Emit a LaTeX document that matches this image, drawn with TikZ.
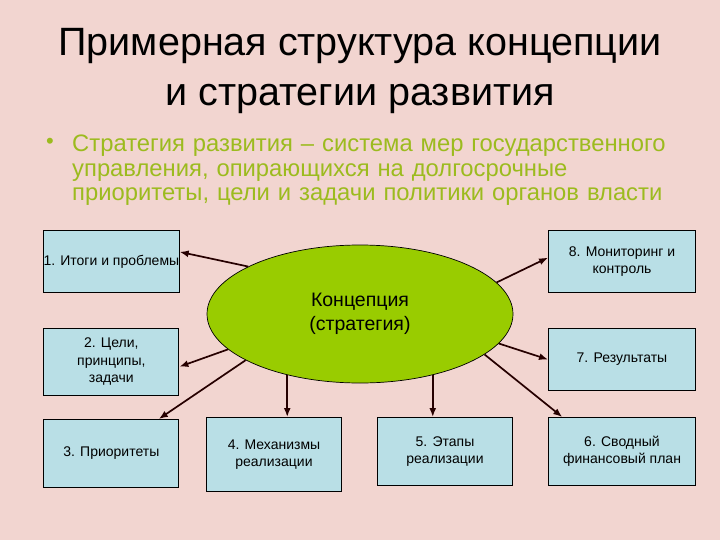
\documentclass[tikz,border=0pt]{standalone}
\usepackage{fontspec}
\setmainfont{Liberation Sans}
\usetikzlibrary{arrows.meta,positioning,shapes.geometric}

\definecolor{slidepink}{HTML}{F2D5D0}
\definecolor{boxblue}{HTML}{B9DFE6}
\definecolor{leafgreen}{HTML}{99CC00}
\definecolor{bullgreen}{HTML}{9CBB1E}

\begin{document}
\begin{tikzpicture}[x=1pt,y=-1pt,>={Latex[length=9pt,width=7pt]},
title/.style={font=\fontsize{39.5}{48}\selectfont,inner sep=0pt},
bull/.style={font=\fontsize{23.8}{24.5}\selectfont,text=bullgreen,inner sep=0pt},
box/.style={draw=black,line width=1pt,fill=boxblue,minimum width=135pt,minimum height=62pt,align=center,inner sep=0pt,font=\fontsize{14}{17.5}\selectfont},
core/.style={ellipse,draw=black,line width=0.7pt,fill=leafgreen,minimum width=306pt,minimum height=138pt,align=center,inner sep=0pt,font=\fontsize{19.5}{24}\selectfont},
arr/.style={->,line width=1.7pt,draw=black!85!red}]
\fill[slidepink] (0,0) rectangle (720,540);
\useasboundingbox (0,0) rectangle (720,540);
% heading and bullet
\node[title,anchor=base] (ttl1) at (360,56) {Примерная структура концепции};
\node[title,anchor=base] (ttl2) at (360,106) {и стратегии развития};
\node[bull,font=\fontsize{22}{22}\selectfont] (dot) at (50,143) {•};
\node[bull,anchor=base west,text width=630pt,align=left] (defn) at (72,152)
  {Стратегия развития – система мер государственного\\управления, опирающихся на долгосрочные\\приоритеты, цели и задачи политики органов власти};
% centre
\node[core] (conc) at (360,314) {Концепция\\(стратегия)};
% left column
\node[box,anchor=north west] (itogi) at (43,230) {1. Итоги и проблемы};
\node[box,minimum height=67pt,below=35pt of itogi] (celi) {2. Цели,\\принципы,\\задачи};
\node[box,minimum height=68pt,below=23pt of celi] (prior) {3. Приоритеты};
% bottom row
\node[box,minimum height=74pt,anchor=north west] (mech) at (206,417) {4. Механизмы\\реализации};
\node[box,minimum height=68pt,anchor=north west] (etap) at (377,417) {5. Этапы\\реализации};
\node[box,minimum width=147pt,minimum height=68pt,anchor=north west] (fin) at (548,417) {6. Сводный\\финансовый план};
% right column
\node[box,minimum width=147pt,anchor=north west] (monit) at (548,230) {8. Мониторинг и\\контроль};
\node[box,minimum width=147pt,below=35pt of monit] (rez) {7. Результаты};
% arrows
\draw[arr] (conc.157)--(itogi.8);
\draw[arr] (conc.195)--(celi.356);
\draw[arr] (conc.202)--(prior.36);
\draw[arr] (conc.220)--(conc.220 |- mech.north);
\draw[arr] (conc.320)--(conc.320 |- etap.north);
\draw[arr] (conc.342)--(fin.150);
\draw[arr] (conc.348)--(rez.west);
\draw[arr] (conc.13)--(monit.177);
\end{tikzpicture}
\end{document}
